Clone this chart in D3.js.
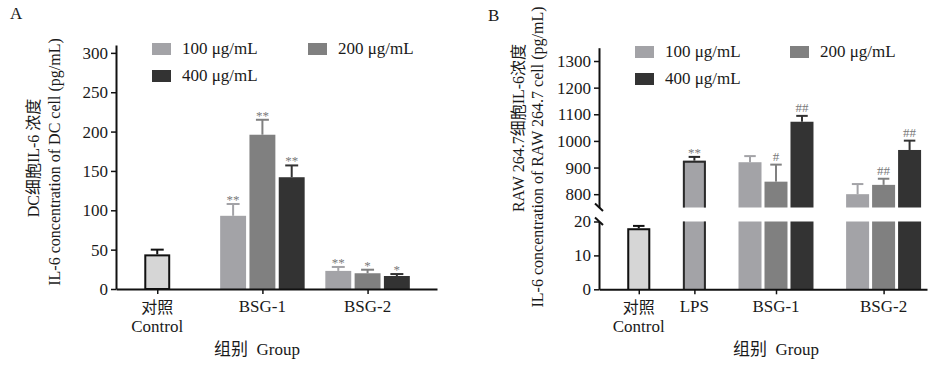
<!DOCTYPE html>
<html>
<head>
<meta charset="utf-8">
<script src="https://cdn.jsdelivr.net/npm/d3@7"></script>
<style>
  body { margin: 0; background: #fff; }
  svg text { font-family: "Liberation Serif", "Times New Roman", "Noto Sans CJK SC", serif; fill: #1a1a1a; }
</style>
</head>
<body>
<svg id="chart" width="928" height="365"></svg>
<script>
// ---- data ----
const doses = ["100 μg/mL", "200 μg/mL", "400 μg/mL"];
const doseColors = ["#a3a3a7", "#808080", "#333333"];

// A: DC cells
const groupsA = ["对照|Control", "BSG-1", "BSG-2"];
const controlA = { mean: 44, sd: 6 };
const meanA = [[93, 23], [196, 20], [142, 16.5]]; // [dose][BSG-1, BSG-2]
const sdA = [[15, 5], [19, 4.5], [15, 2.5]];
const sigA = [["**", "**"], ["**", "*"], ["**", "*"]];
const ticksA = [0, 50, 100, 150, 200, 250, 300];

// B: RAW 264.7 cells
const groupsB = ["对照|Control", "LPS", "BSG-1", "BSG-2"];
const controlB = { mean: 18, sd: 0.7 };
const lpsB = { mean: 926, sd: 14, sig: "**" };
const meanB = [[920, 800], [847, 835], [1072, 966]];
const sdB = [[23, 38], [64, 23], [22, 35]];
const sigB = [["", ""], ["#", "##"], ["##", "##"]];
const ticksBLow = [0, 10, 20];
const ticksBHigh = [800, 900, 1000, 1100, 1200, 1300];

const svg = d3.select("#chart");
const BW = 0.885; // bar width in slot units

// groups laid out in slots, single bars centred in their group
function slotLayout(sizes, minSlots, gap) {
  let pos = 0;
  return sizes.map(n => {
    const w = Math.max(n, minSlots);
    const g = { start: pos, w: w, n: n, center: pos + w / 2 };
    pos += w + gap;
    return g;
  });
}
const barCenter = (g, i) => g.start + (g.w - g.n) / 2 + i + 0.5;

function styleAxis(g) {
  g.select(".domain").attr("stroke", "#111").attr("stroke-width", 2);
  g.selectAll(".tick line").attr("stroke", "#111").attr("stroke-width", 1.5);
  g.selectAll(".tick text").attr("font-size", 17).attr("fill", "#1a1a1a");
}

function drawLegend(x1, x2, y1, y2) {
  const pos = [[x1, y1], [x2, y1], [x1, y2]];
  const lg = svg.append("g");
  doses.forEach((d, i) => {
    lg.append("rect").attr("x", pos[i][0]).attr("y", pos[i][1])
      .attr("width", 19).attr("height", 12).attr("fill", doseColors[i]);
    lg.append("text").attr("x", pos[i][0] + 30).attr("y", pos[i][1] + 11)
      .attr("font-size", 17).text(d);
  });
}

function catLabels(x, centers, groups, yBase) {
  groups.forEach((name, i) => {
    const parts = name.split("|");
    parts.forEach((p, k) => {
      svg.append("text").attr("text-anchor", "middle")
        .attr("font-size", k === 0 && parts.length > 1 ? 16 : 17)
        .attr("x", x(centers[i]))
        .attr("y", yBase + (parts.length > 1 ? 1 + k * 19 : 0)).text(p);
    });
  });
}

function errBar(x, y, c, top, color) {
  svg.append("line").attr("x1", x(c)).attr("x2", x(c))
    .attr("y1", y(top.v)).attr("y2", y(top.v + top.sd))
    .attr("stroke", color).attr("stroke-width", 2);
  svg.append("line").attr("x1", x(c - BW / 4)).attr("x2", x(c + BW / 4))
    .attr("y1", y(top.v + top.sd)).attr("y2", y(top.v + top.sd))
    .attr("stroke", color).attr("stroke-width", 2);
}

function sigText(x, y, c, top, s) {
  if (!s) return;
  svg.append("text").attr("x", x(c))
    .attr("y", y(top.v + top.sd) - (s.includes("#") ? 4 : 0))
    .attr("text-anchor", "middle").attr("font-size", 13)
    .style("fill", "#7a7a7a").text(s);
}

// ================= Panel A =================
(function () {
  const L = 116, R = 437, T = 45, B = 289;
  const lay = slotLayout([1, 3, 3], 3, 0.59);
  const x = d3.scaleLinear().domain([0.092, 11.05]).range([L, R]);
  const y = d3.scaleLinear().domain([0, 310]).range([B, T]);

  const bars = [{ c: barCenter(lay[0], 0), v: controlA.mean, sd: controlA.sd, fill: "#d6d6d6", stroke: "#111", err: "#111", sig: "" }];
  meanA.forEach((row, di) => row.forEach((v, gi) => {
    bars.push({ c: barCenter(lay[gi + 1], di), v: v, sd: sdA[di][gi], fill: doseColors[di], stroke: null,
      err: doseColors[di], sig: sigA[di][gi] });
  }));

  bars.forEach(b => {
    const sw = b.stroke ? 2 : 0;
    svg.append("rect")
      .attr("x", x(b.c - BW / 2) + sw / 2).attr("width", x(BW) - x(0) - sw)
      .attr("y", y(b.v) + sw / 2).attr("height", y(0) - y(b.v) - sw / 2)
      .attr("fill", b.fill).attr("stroke", b.stroke || "none").attr("stroke-width", sw);
    errBar(x, y, b.c, b, b.err);
    sigText(x, y, b.c, b, b.sig);
  });

  svg.append("g").attr("transform", `translate(${L},0)`)
    .call(d3.axisLeft(y).tickValues(ticksA).tickSize(5).tickPadding(3).tickSizeOuter(0))
    .call(styleAxis);
  svg.append("g").attr("transform", `translate(0,${B})`)
    .call(d3.axisBottom(x).tickValues(lay.map(g => g.center)).tickFormat("").tickSize(5).tickSizeOuter(0))
    .call(styleAxis);

  catLabels(x, lay.map(g => g.center), groupsA, 312);
  drawLegend(152, 308, 43, 70);

  svg.append("text").attr("x", 10).attr("y", 19).attr("font-size", 17).text("A");
  svg.append("text").attr("transform", "translate(39,158) rotate(-90)")
    .attr("text-anchor", "middle").attr("font-size", 16).text("DC细胞IL-6 浓度");
  svg.append("text").attr("transform", "translate(60,162) rotate(-90)")
    .attr("text-anchor", "middle").attr("font-size", 16).text("IL-6 concentration of DC cell (pg/mL)");
  svg.append("text").attr("x", 257).attr("y", 355).attr("text-anchor", "middle")
    .attr("font-size", 17).style("white-space", "pre").text("组别  Group");
})();

// ================= Panel B (broken axis) =================
(function () {
  const L = 599, R = 927, B = 289.3;
  const lay = slotLayout([1, 1, 3, 3], 1, 1.14);
  const x = d3.scaleLinear().domain([-1.03, 11.59]).range([L, R]);
  const yLow = d3.scaleLinear().domain([0, 20]).range([B, 221.5]);
  const yHigh = d3.scaleLinear().domain([750, 1350]).range([207.5, 47.7]);

  const bars = [
    { c: barCenter(lay[0], 0), v: controlB.mean, sd: controlB.sd, fill: "#d6d6d6", stroke: "#111", err: "#111", sig: "" },
    { c: barCenter(lay[1], 0), v: lpsB.mean, sd: lpsB.sd, fill: doseColors[0], stroke: "#2a2a2a", err: "#2a2a2a", sig: lpsB.sig }
  ];
  meanB.forEach((row, di) => row.forEach((v, gi) => {
    bars.push({ c: barCenter(lay[gi + 2], di), v: v, sd: sdB[di][gi], fill: doseColors[di], stroke: null,
      err: doseColors[di], sig: sigB[di][gi] });
  }));

  // a bar piece, outline only on the edges that are not cut by the break
  function piece(b, y, lo, hi, topEdge) {
    const x0 = x(b.c - BW / 2), x1 = x(b.c + BW / 2);
    const sw = b.stroke ? 2 : 0;
    svg.append("rect").attr("x", x0).attr("width", x1 - x0)
      .attr("y", y(hi)).attr("height", y(lo) - y(hi)).attr("fill", b.fill);
    if (!b.stroke) return;
    const xa = x0 + sw / 2, xb = x1 - sw / 2, ya = y(hi) + (topEdge ? sw / 2 : 0), yb = y(lo);
    let p = `M${xa},${yb}L${xa},${ya}`;
    p += topEdge ? `L${xb},${ya}` : `M${xb},${ya}`;
    p += `L${xb},${yb}`;
    svg.append("path").attr("d", p).attr("fill", "none").attr("stroke", b.stroke).attr("stroke-width", sw);
  }

  bars.forEach(b => {
    piece(b, yLow, 0, Math.min(b.v, 20), b.v <= 20);
    if (b.v > 750) piece(b, yHigh, 750, b.v, true);
    const y = b.v > 750 ? yHigh : yLow;
    errBar(x, y, b.c, b, b.err);
    sigText(x, y, b.c, b, b.sig);
  });

  svg.append("g").attr("transform", `translate(${L},0)`)
    .call(d3.axisLeft(yHigh).tickValues(ticksBHigh).tickFormat(d3.format("d")).tickSize(5).tickPadding(3).tickSizeOuter(0))
    .call(styleAxis);
  svg.append("g").attr("transform", `translate(${L},0)`)
    .call(d3.axisLeft(yLow).tickValues(ticksBLow).tickFormat(d3.format("d")).tickSize(5).tickPadding(3).tickSizeOuter(0))
    .call(styleAxis);
  // break marks
  [yHigh(750), yLow(20)].forEach(yy => {
    svg.append("line").attr("x1", L - 4).attr("x2", L + 4)
      .attr("y1", yy - 4).attr("y2", yy + 3.5).attr("stroke", "#111").attr("stroke-width", 2);
  });

  svg.append("g").attr("transform", `translate(0,${B})`)
    .call(d3.axisBottom(x).tickValues(lay.map(g => g.center)).tickFormat("").tickSize(5).tickSizeOuter(0))
    .call(styleAxis);

  catLabels(x, lay.map(g => g.center), groupsB, 312);
  drawLegend(635, 790, 46, 73);

  svg.append("text").attr("x", 488).attr("y", 21).attr("font-size", 17).text("B");
  svg.append("text").attr("transform", "translate(524,128) rotate(-90)")
    .attr("text-anchor", "middle").attr("font-size", 16).text("RAW 264.7细胞IL-6浓度");
  svg.append("text").attr("transform", "translate(543,157) rotate(-90)")
    .attr("text-anchor", "middle").attr("font-size", 16).text("IL-6 concentration of RAW 264.7 cell (pg/mL)");
  svg.append("text").attr("x", 776).attr("y", 355).attr("text-anchor", "middle")
    .attr("font-size", 17).style("white-space", "pre").text("组别  Group");
})();
</script>
</body>
</html>
